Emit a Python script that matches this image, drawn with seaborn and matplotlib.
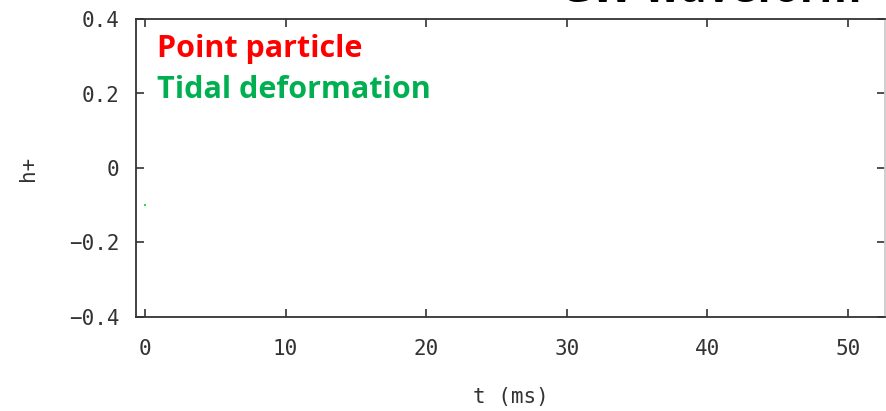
import matplotlib
matplotlib.use("Agg")
import matplotlib.pyplot as plt
import seaborn as sns
import pandas as pd

# Waveform samples plotted so far (only the first sample is present)
t_ms = [0.0]
h_plus = [-0.1]

x_ticks = [0, 10, 20, 30, 40, 50]
y_ticks = [-0.4, -0.2, 0, 0.2, 0.4]
y_tick_labels = ["\u22120.4", "\u22120.2", "0", "0.2", "0.4"]

legend_labels = ["Point particle", "Tidal deformation"]
legend_colors = ["#ff0000", "#00b050"]

sns.set_style("ticks")
plt.rcParams["font.family"] = ["DejaVu Sans Mono", "DejaVu Sans"]

fig = plt.figure(figsize=(8.86, 4.11), dpi=100)
ax = fig.add_axes([136 / 886, (411 - 317) / 411, 749 / 886, 298 / 411])

df = pd.DataFrame({"t": t_ms, "h": h_plus})
sns.scatterplot(data=df, x="t", y="h", ax=ax, color="#33dd33", s=3,
                marker="s", linewidth=0, legend=False)

ax.set_xlim(-0.64, 52.63)
ax.set_ylim(-0.4, 0.4)
ax.set_xticks(x_ticks)
ax.set_yticks(y_ticks)
ax.set_yticklabels(y_tick_labels)

for side in ["left", "bottom", "top", "right"]:
    ax.spines[side].set_visible(True)
    ax.spines[side].set_color("#333333")
    ax.spines[side].set_linewidth(1.3)
ax.spines["right"].set_color("#cccccc")

ax.tick_params(axis="both", direction="in", length=6, width=1.2,
               color="#333333", labelcolor="#333333", labelsize=15,
               top=True, right=True)
ax.tick_params(axis="x", pad=16)
ax.tick_params(axis="y", pad=12)

ax.set_xlabel("t (ms)", fontsize=15, color="#333333", labelpad=20)
ax.set_ylabel("h+", fontsize=15, color="#333333")
ax.yaxis.set_label_coords((38 - 136) / 749, 0.5)

# Series labels written inside the plot area
for i, (label, col) in enumerate(zip(legend_labels, legend_colors)):
    fig.text(157 / 886, (411 - 57 - 41 * i) / 411, label, color=col,
             fontsize=22, fontweight="bold", family="Open Sans",
             ha="left", va="baseline")

# Slide title running off the top edge
fig.text(560 / 886, (411 - 2) / 411, "GW waveform", color="black",
         fontsize=31, fontweight="bold", family="Open Sans",
         ha="left", va="baseline")

fig.savefig("out.png", dpi=100)
